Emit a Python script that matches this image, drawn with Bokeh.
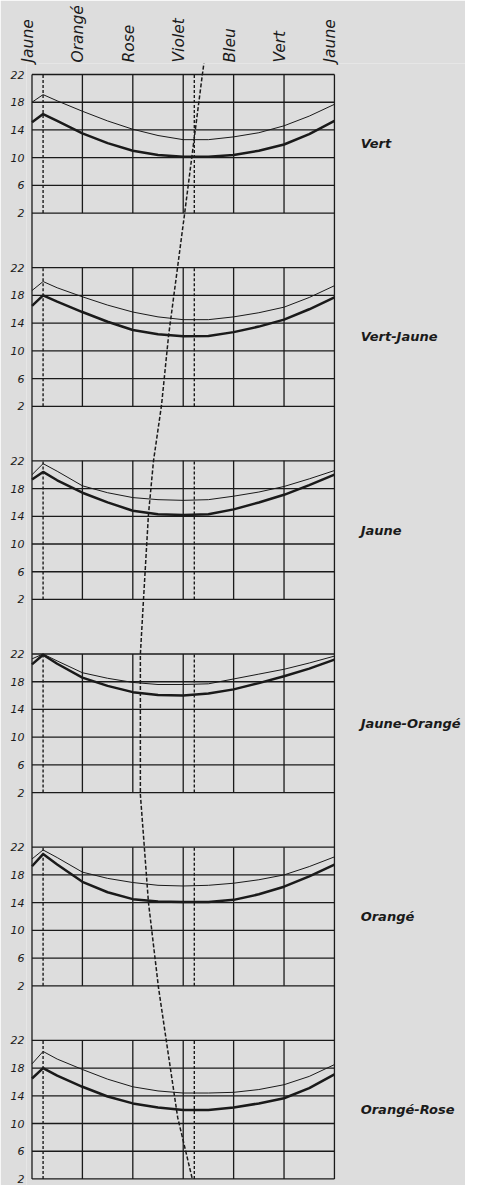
from bokeh.plotting import figure
from bokeh.models import Range1d, FixedTicker
from bokeh.core.properties import value
from bokeh.embed import file_html
from bokeh.resources import INLINE

# ---------------- data ----------------
categories = ["Jaune", "Orangé", "Rose", "Violet", "Bleu", "Vert", "Jaune"]
cat_pos = [0, 1, 2, 3, 4, 5, 6]
panels = ["Vert", "Vert-Jaune", "Jaune", "Jaune-Orangé", "Orangé", "Orangé-Rose"]
levels = [22, 18, 14, 10, 6, 2]

xs = [0, 0.22, 0.5, 1, 1.5, 2, 2.5, 3, 3.5, 4, 4.5, 5, 5.5, 6]

thin_vert = [18.0, 19.1, 18.2, 16.7, 15.3, 14.1, 13.2, 12.6, 12.6, 13.0, 13.6, 14.6, 16.0, 17.7]
thick_vert = [15.1, 16.3, 15.3, 13.5, 12.1, 11.0, 10.4, 10.15, 10.15, 10.4, 11.0, 11.9, 13.4, 15.3]

thin_vert_jaune = [18.7, 20.0, 19.1, 17.8, 16.6, 15.6, 14.9, 14.5, 14.5, 14.9, 15.5, 16.3, 17.7, 19.4]
thick_vert_jaune = [16.5, 18.0, 17.1, 15.6, 14.2, 13.0, 12.4, 12.1, 12.15, 12.7, 13.5, 14.5, 16.0, 17.7]

thin_jaune = [20.0, 21.6, 20.5, 18.4, 17.4, 16.7, 16.4, 16.3, 16.4, 16.9, 17.5, 18.3, 19.4, 20.6]
thick_jaune = [19.3, 20.4, 19.2, 17.4, 16.0, 14.8, 14.3, 14.2, 14.3, 15.0, 16.0, 17.1, 18.5, 20.0]

thin_jaune_orange = [21.3, 22.0, 21.0, 19.3, 18.5, 17.9, 17.6, 17.6, 17.7, 18.4, 19.1, 19.8, 20.7, 21.7]
thick_jaune_orange = [20.5, 21.9, 20.6, 18.6, 17.4, 16.5, 16.1, 16.0, 16.3, 16.9, 17.8, 18.8, 19.9, 21.2]

thin_orange = [20.3, 21.6, 20.5, 18.4, 17.5, 16.9, 16.5, 16.4, 16.5, 16.8, 17.3, 18.0, 19.2, 20.6]
thick_orange = [19.25, 21.0, 19.5, 17.0, 15.5, 14.5, 14.15, 14.1, 14.1, 14.4, 15.2, 16.3, 17.8, 19.5]

thin_orange_rose = [18.6, 20.4, 19.3, 17.8, 16.4, 15.3, 14.7, 14.4, 14.4, 14.5, 14.9, 15.6, 16.8, 18.5]
thick_orange_rose = [16.5, 18.0, 16.9, 15.3, 13.9, 12.9, 12.3, 11.95, 11.95, 12.3, 12.9, 13.65, 15.1, 17.1]

thin_series = [thin_vert, thin_vert_jaune, thin_jaune, thin_jaune_orange, thin_orange, thin_orange_rose]
thick_series = [thick_vert, thick_vert_jaune, thick_jaune, thick_jaune_orange, thick_orange, thick_orange_rose]

# vertical dotted reference positions inside each panel
ref_lines_x = [0.22, 3.22]

# long dashed curve crossing all panels: x, panel index, value within that panel
curve_x = [3.42, 3.38, 3.03, 2.89, 2.71, 2.57, 2.45, 2.41, 2.31, 2.21, 2.15, 2.15, 2.21, 2.31, 2.51, 2.67, 2.89, 3.18]
curve_panel = [0, 0, 0, 1, 1, 1, 2, 2, 2, 2, 3, 3, 4, 4, 4, 5, 5, 5]
curve_v = [24.15, 22.0, 2.06, 22.17, 12.23, 2.19, 23.98, 21.97, 14.22, 1.74, 21.96, 1.73,
           23.81, 14.05, 1.71, 21.68, 10.88, 2.0]

# ---------------- layout ----------------
S = 27.875         # vertical offset between panels (data units)
BG = "#dddddd"
INK = "#1a1a1a"
FONT = "DejaVu Sans"

p = figure(width=465, height=1185, output_backend="svg", toolbar_location=None,
           x_range=Range1d(-0.109, 8.60), y_range=Range1d(-138.32, 23.59),
           x_axis_location="above", min_border_left=26, min_border_right=0,
           min_border_top=63, min_border_bottom=0)
p.background_fill_color = BG
p.border_fill_color = BG
p.outline_line_color = None
p.xgrid.visible = False
p.ygrid.visible = False

# top category axis
lab_ticks = [c - 0.08 for c in cat_pos]
p.xaxis.ticker = FixedTicker(ticks=lab_ticks)
p.xaxis.major_label_overrides = {t: c for t, c in zip(lab_ticks, categories)}
p.xaxis.major_label_orientation = "vertical"
p.xaxis.axis_line_color = None
p.xaxis.major_tick_line_color = None
p.xaxis.minor_tick_line_color = None
p.xaxis.major_tick_out = 0
p.xaxis.major_label_standoff = 1
p.xaxis.major_label_text_font = FONT
p.xaxis.major_label_text_font_style = "italic"
p.xaxis.major_label_text_font_size = "15.5px"
p.xaxis.major_label_text_color = INK

# left value axis, repeated per panel
yt, ylab = [], {}
for k in range(len(panels)):
    for v in levels:
        y = v - S * k
        yt.append(y)
        ylab[y] = str(v)
p.yaxis.ticker = FixedTicker(ticks=yt)
p.yaxis.major_label_overrides = ylab
p.yaxis.axis_line_color = None
p.yaxis.major_tick_line_color = None
p.yaxis.minor_tick_line_color = None
p.yaxis.major_tick_out = 0
p.yaxis.major_label_standoff = 2
p.yaxis.major_label_text_font = FONT
p.yaxis.major_label_text_font_style = "italic"
p.yaxis.major_label_text_font_size = "11px"
p.yaxis.major_label_text_color = INK

# grid of each panel
hx0, hx1, hy = [], [], []
vx, vy0, vy1 = [], [], []
dx, dy0, dy1 = [], [], []
for k in range(len(panels)):
    for v in levels:
        hx0.append(cat_pos[0]); hx1.append(cat_pos[-1]); hy.append(v - S * k)
    for c in cat_pos[1:-1]:
        vx.append(c); vy0.append(levels[-1] - S * k); vy1.append(levels[0] - S * k)
    for rx in ref_lines_x:
        dx.append(rx); dy0.append(levels[-1] - S * k); dy1.append(levels[0] - S * k)
# outer frame sides run through all panels
for c in (cat_pos[0], cat_pos[-1]):
    vx.append(c); vy0.append(levels[-1] - S * (len(panels) - 1)); vy1.append(levels[0])

p.segment(x0=hx0, y0=hy, x1=hx1, y1=hy, line_color=INK, line_width=1.3)
p.segment(x0=vx, y0=vy0, x1=vx, y1=vy1, line_color=INK, line_width=1.3)
p.segment(x0=dx, y0=dy0, x1=dx, y1=dy1, line_color=INK, line_width=1.4, line_dash="3 2")

# curves
for k in range(len(panels)):
    p.line(xs, [v - S * k for v in thin_series[k]], line_color=INK, line_width=1.0)
    p.line(xs, [v - S * k for v in thick_series[k]], line_color=INK, line_width=2.5)

# long dashed curve
p.line(curve_x, [v - S * k for v, k in zip(curve_v, curve_panel)],
       line_color=INK, line_width=1.5, line_dash="4 2")

# panel names on the right
p.text(x=[6.52] * len(panels), y=[12 - S * k for k in range(len(panels))], text=panels,
       text_font=value(FONT), text_font_style="bold italic", text_font_size="13px",
       text_color=INK, text_baseline="middle", text_align="left")

open("out.html", "w").write(file_html(p, INLINE))
